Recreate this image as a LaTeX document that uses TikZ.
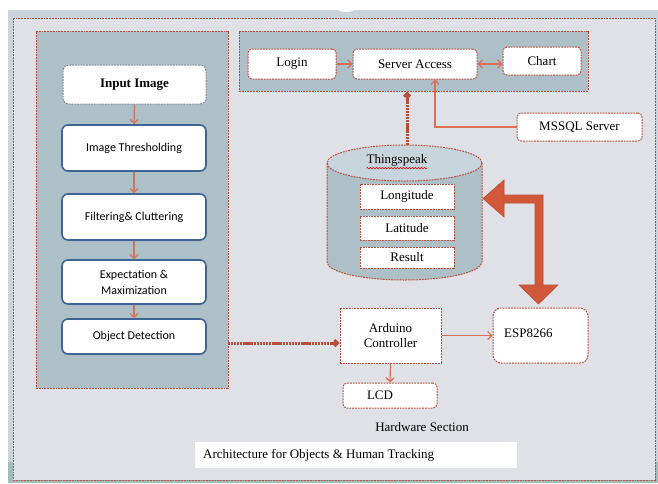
\documentclass[tikz,border=0pt]{standalone}
\usepackage{fontspec}
\setmainfont{Liberation Serif}
\newfontfamily\carlito{Carlito}
\usetikzlibrary{arrows.meta,decorations.pathmorphing}
\definecolor{outerbg}{HTML}{C8D3DA}
\definecolor{tealbg}{HTML}{A3BCBA}
\definecolor{innerbg}{HTML}{DFE1E7}
\definecolor{panelbg}{HTML}{ADBFC7}
\definecolor{toplight}{HTML}{C9D5DC}
\definecolor{dashred}{HTML}{B94E3A}
\definecolor{arrred}{HTML}{DC6E52}
\definecolor{bigred}{HTML}{D2583A}
\definecolor{boxblue}{HTML}{3E6496}
\definecolor{graydash}{HTML}{7D8CA0}
\begin{document}
\begin{tikzpicture}[x=1pt,y=-1pt,
  reddash/.style={draw=dashred, line width=1pt, dash pattern=on 1.8pt off 1pt},
  panel/.style={reddash, fill=panelbg},
  serifbox/.style={reddash, fill=white, rounded corners=4pt, inner sep=0pt, font=\fontsize{13}{15}\selectfont},
  sqbox/.style={reddash, fill=white, inner sep=0pt, font=\fontsize{13}{15}\selectfont},
  bluebox/.style={draw=boxblue, line width=1.6pt, fill=white, rounded corners=6pt, inner sep=0pt, minimum width=144pt, align=center, font=\carlito\fontsize{12}{16}\selectfont},
  flow/.style={draw=arrred, line width=1.2pt, -{Straight Barb[length=4pt,width=8pt]}},
  thickflow/.style={draw=dashred, line width=3pt, dash pattern=on 2.2pt off 0.7pt, -{Straight Barb[length=3pt,width=6pt]}},
  lbl/.style={inner sep=0pt, font=\fontsize{13}{15}\selectfont}
]
\useasboundingbox (0,0) rectangle (658,483);
% backgrounds
\fill[white] (0,0) rectangle (658,483);
\fill[outerbg] (8,10) rectangle (658,483);
\fill[tealbg] (8,462) rectangle (658,483);
\fill[white] (346,2) ellipse [x radius=14pt, y radius=10pt];
\draw[reddash, fill=innerbg] (13,18) rectangle (655,480);

% left panel
\node[panel, minimum width=192pt, minimum height=357pt, inner sep=0pt] (leftpanel) at (132,209.5) {};
% top panel
\node[panel, minimum width=349pt, minimum height=60pt, inner sep=0pt] (toppanel) at (413.5,61) {};

% left chain
\node[draw=graydash, line width=1pt, dash pattern=on 1.8pt off 1pt, fill=white, rounded corners=6pt, minimum width=143pt, minimum height=39pt, inner sep=0pt, font=\bfseries\fontsize{13}{15}\selectfont] (input) at (134.5,84.5) {Input Image};
\node[bluebox, minimum height=46pt] (thresh) at (134,148) {Image Thresholding};
\node[bluebox, minimum height=46pt] (filter) at (134,217) {Filtering\& Cluttering};
\node[bluebox, minimum height=44pt] (expect) at (134,282) {Expectation \&\\Maximization};
\node[bluebox, minimum height=35pt] (objdet) at (134,336.5) {Object Detection};
\draw[flow] (input.south) -- (thresh.north);
\draw[flow] (thresh.south) -- (filter.north);
\draw[flow] (filter.south) -- (expect.north);
\draw[flow] (expect.south) -- (objdet.north);

% top panel boxes
\node[serifbox, minimum width=88pt, minimum height=30pt] (login) at (292,64) {Login};
\node[serifbox, minimum width=124pt, minimum height=30pt] (server) at (415,64) {Server Access};
\node[serifbox, minimum width=78pt, minimum height=28pt] (chart) at (542,61) {Chart};
\draw[flow] (login.east) -- (server.west);
\draw[draw=arrred, line width=1.2pt, {Straight Barb[length=4pt,width=8pt]}-{Straight Barb[length=4pt,width=8pt]}] (server.east) -- (server.east -| chart.west);

% MSSQL
\node[serifbox, minimum width=125pt, minimum height=28pt] (mssql) at (579.5,127) {MSSQL Server};
\coordinate (mbend) at (435,127);
\draw[flow] (mssql.west) -- (mbend) -- (mbend |- server.south);

% cylinder
\path[fill=panelbg] (327,163) -- (327,262) arc[start angle=180, end angle=360, x radius=77.5pt, y radius=18pt] -- (482,163) -- cycle;
\draw[reddash] (327,163) -- (327,262) arc[start angle=180, end angle=360, x radius=77.5pt, y radius=18pt] -- (482,163);
\draw[reddash, fill=toplight] (404.5,163) ellipse [x radius=77.5pt, y radius=18pt];
\node[lbl] (thing) at (397,160) {Thingspeak};
\draw[red!85!black, line width=0.5pt, decorate, decoration={snake, amplitude=0.8pt, segment length=3pt}] ([yshift=-2pt]thing.south west) -- ([yshift=-2pt]thing.south east);
\coordinate (cyltop) at (407,145);
\node[sqbox, minimum width=94pt, minimum height=25pt] (lon) at (407,196.5) {Longitude};
\node[sqbox, minimum width=94pt, minimum height=24pt] (lat) at (407,228) {Latitude};
\node[sqbox, minimum width=94pt, minimum height=21pt] (res) at (407,257.5) {Result};
\draw[thickflow] (cyltop) -- (cyltop |- toppanel.south);

% hardware
\node[sqbox, minimum width=101pt, minimum height=55pt, align=center] (ard) at (390.5,335.5) {Arduino\\Controller};
\node[reddash, fill=white, rounded corners=8pt, minimum width=95pt, minimum height=55pt, inner sep=0pt] (esp) at (540.5,335.5) {};
\node[lbl, anchor=west] at (504,333) {ESP8266};
\node[reddash, fill=white, rounded corners=4pt, minimum width=94pt, minimum height=25pt, inner sep=0pt] (lcd) at (390,395.5) {};
\node[lbl] at (380,395.5) {LCD};
\draw[flow] (ard.east) -- (esp.west);
\draw[flow] (ard.south) -- (lcd.north);
\coordinate (lpout) at (228,343);
\draw[thickflow] (lpout) -- (lpout -| ard.west);

% big double arrow
\filldraw[fill=bigred, draw=dashred, line width=0.6pt] (483,198.5) -- (504,180) -- (504,195) -- (543,195) -- (543,285) -- (558,285) -- (538.5,304) -- (519,285) -- (535,285) -- (535,203) -- (504,203) -- (504,217) -- cycle;

% labels
\node[lbl] (hw) at (422,427) {Hardware Section};
\node[fill=white, minimum width=322pt, minimum height=26pt, inner sep=0pt] (capbox) at (356,455) {};
\node[lbl, anchor=west] at (203,455) {Architecture for Objects \& Human Tracking};
\end{tikzpicture}
\end{document}
